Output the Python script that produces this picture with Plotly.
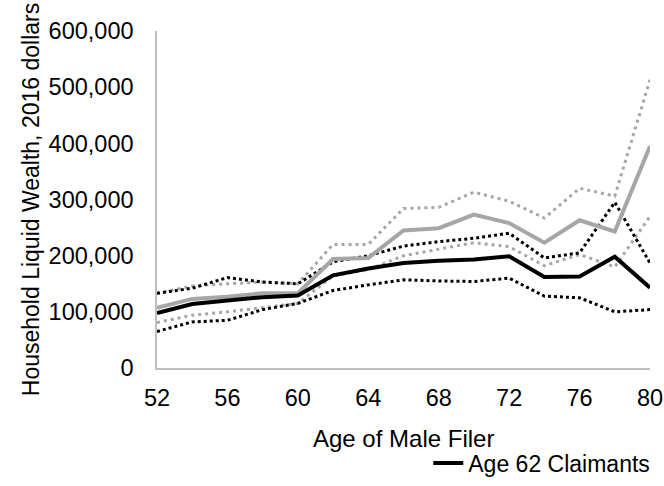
import plotly.graph_objects as go

ages = [52, 54, 56, 58, 60, 62, 64, 66, 68, 70, 72, 74, 76, 78, 80]

claim62 = [98000, 114000, 120000, 126000, 129000, 165000, 177000, 187000, 191000, 193000, 199000, 162000, 163000, 198000, 143000]
claim62_hi = [133000, 142000, 161000, 153000, 150000, 189000, 200000, 217000, 225000, 231000, 240000, 196000, 205000, 295000, 187000]
claim62_lo = [65000, 82000, 85000, 104000, 115000, 138000, 148000, 157000, 155000, 154000, 160000, 128000, 125000, 100000, 104000]

other = [107000, 123000, 127000, 133000, 133000, 194000, 196000, 245000, 249000, 273000, 258000, 223000, 263000, 243000, 395000]
other_hi = [133000, 146000, 150000, 153000, 150000, 220000, 220000, 284000, 286000, 313000, 297000, 267000, 320000, 306000, 513000]
other_lo = [81000, 94000, 100000, 108000, 115000, 164000, 175000, 200000, 211000, 223000, 216000, 182000, 202000, 180000, 270000]

x_title = "Age of Male Filer"
y_title = "Household Liquid Wealth, 2016 dollars"

GRAY = "#A6A6A6"

fig = go.Figure()
fig.add_trace(go.Scatter(x=ages, y=other_hi, mode="lines", line=dict(color=GRAY, width=3, dash="3px,4px"), showlegend=False))
fig.add_trace(go.Scatter(x=ages, y=other_lo, mode="lines", line=dict(color=GRAY, width=3, dash="3px,4px"), showlegend=False))
fig.add_trace(go.Scatter(x=ages, y=claim62_hi, mode="lines", line=dict(color="black", width=3, dash="3px,3px"), showlegend=False))
fig.add_trace(go.Scatter(x=ages, y=claim62_lo, mode="lines", line=dict(color="black", width=3, dash="3px,3px"), showlegend=False))
fig.add_trace(go.Scatter(x=ages, y=other, mode="lines", line=dict(color=GRAY, width=4), showlegend=False))
fig.add_trace(go.Scatter(x=ages, y=claim62, mode="lines", name="Age 62 Claimants", line=dict(color="black", width=4), showlegend=True))

FONT = "Liberation Sans, Arial, sans-serif"

fig.update_layout(
    width=664, height=486,
    margin=dict(l=157, r=14, t=31, b=118, autoexpand=False),
    paper_bgcolor="white", plot_bgcolor="white",
    font=dict(family=FONT, size=23.5, color="black"),
    legend=dict(orientation="h", xref="container", yref="container",
                x=0.645, y=0.047, xanchor="left", yanchor="middle",
                font=dict(size=23), bgcolor="rgba(0,0,0,0)"),
    annotations=[dict(text=x_title, xref="paper", yref="paper", x=0.5, y=-0.209,
                      xanchor="center", yanchor="middle", showarrow=False,
                      font=dict(size=24, family=FONT, color="black"))],
)
fig.update_xaxes(
    range=[52, 80], tickvals=[52, 56, 60, 64, 68, 72, 76, 80],
    showgrid=False, zeroline=False, showline=True, linecolor="#BFBFBF", linewidth=1.5,
    ticks="", ticklabelstandoff=8, automargin=False,
    tickfont=dict(size=23.5),
)
fig.update_yaxes(
    range=[0, 600000], tickvals=[0, 100000, 200000, 300000, 400000, 500000, 600000],
    tickformat=",d",
    showgrid=False, zeroline=False, showline=True, linecolor="#BFBFBF", linewidth=1.5,
    ticks="", ticklabelstandoff=17, automargin=False,
    tickfont=dict(size=23.5),
    title=dict(text=y_title, font=dict(size=23), standoff=3),
)

fig.write_html("out.html")
